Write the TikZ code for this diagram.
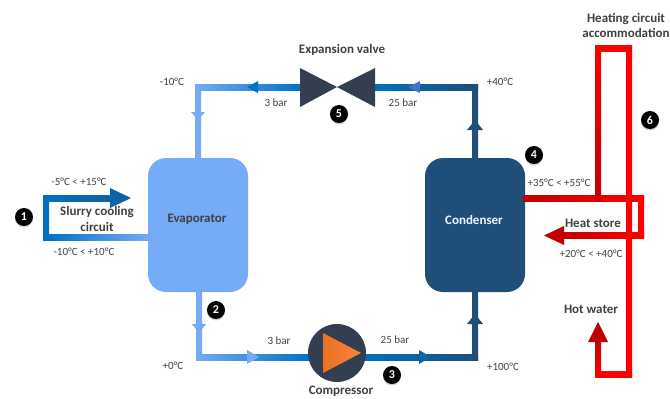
\documentclass[tikz,border=0pt]{standalone}
\usepackage{fontspec}
\setmainfont{Carlito}
\usetikzlibrary{calc,shadows}
\definecolor{evapblue}{HTML}{75ABF7}
\definecolor{midblue}{HTML}{0070C0}
\definecolor{headblue}{HTML}{4472C4}
\definecolor{condblue}{HTML}{1F4E79}
\definecolor{slate}{HTML}{333F50}
\definecolor{darkred}{HTML}{C00000}
\definecolor{pumpL}{HTML}{EB7120}
\definecolor{pumpR}{HTML}{F4863C}
\definecolor{txtgray}{HTML}{404040}
\tikzset{
tank/.style={draw=none, rounded corners=18pt, minimum width=100pt, minimum height=134pt, inner sep=0},
val/.style={text=txtgray, font=\fontsize{11}{12}\selectfont, inner sep=0},
capt/.style={text=txtgray, font=\fontsize{13}{15.5}\selectfont\bfseries, inner sep=0, align=center},
badge/.style={circle, fill=black, text=white, minimum size=18pt, inner sep=0, font=\fontsize{12}{12}\selectfont\bfseries, drop shadow={opacity=.35, shadow xshift=0pt, shadow yshift=-1.5pt}}
}
\newcommand{\hpipe}[4]{\shade[left color=#3, right color=#4] ($(#1)+(-3,-3)$) rectangle ($(#2)+(3,3)$);}
\newcommand{\vpipe}[4]{\shade[top color=#3, bottom color=#4] ($(#1)+(-3,-3)$) rectangle ($(#2)+(3,3)$);}
\begin{document}
\begin{tikzpicture}[x=1pt,y=-1pt]
\useasboundingbox (0,0) rectangle (670,399);
\node[tank, fill=evapblue] (evap) at (198,225) {};
\node[tank, fill=condblue] (cond) at (475,225) {};
\coordinate (valve) at (337,87);
\coordinate (valveL) at (300,87);
\coordinate (valveR) at (375,87);
\coordinate (topL) at (198,87);
\coordinate (topR) at (475,87);
\coordinate (botL) at (199,357);
\coordinate (botR) at (475,357);
\coordinate (compL) at (308,357);
\coordinate (compR) at (366,357);
\coordinate (evapT) at (198,158);
\coordinate (evapB) at (199,292);
\coordinate (condT) at (475,158);
\coordinate (condB) at (475,292);
\vpipe{topL}{evapT}{evapblue}{evapblue}
\vpipe{evapB}{botL}{evapblue}{evapblue}
\vpipe{topR}{condT}{condblue}{condblue}
\vpipe{condB}{botR}{condblue}{condblue}
\hpipe{topL}{valveL}{evapblue}{midblue}
\hpipe{valveR}{topR}{midblue}{condblue}
\hpipe{botL}{compL}{evapblue}{midblue}
\hpipe{compR}{botR}{midblue}{condblue}
\fill[midblue] (258,81) -- (247,87) -- (258,93) -- cycle;
\fill[headblue] (420,81) -- (408,87) -- (420,93) -- cycle;
\fill[evapblue] (191,112) -- (205,112) -- (198,120) -- cycle;
\fill[evapblue] (192,324) -- (206,324) -- (199,333) -- cycle;
\fill[evapblue] (247,350) -- (259,357) -- (247,364) -- cycle;
\fill[midblue!70!condblue] (419,350) -- (431,357) -- (419,364) -- cycle;
\fill[condblue] (467,130) -- (483,130) -- (475,120) -- cycle;
\fill[condblue] (467,324) -- (483,324) -- (475,314) -- cycle;
\fill[slate] (300,68) -- (valve) -- (300,107) -- cycle;
\fill[slate] (375,68) -- (valve) -- (375,107) -- cycle;
\node[circle, fill=slate, minimum size=58pt, inner sep=0] (comp) at (337,353) {};
\shade[left color=pumpL, right color=pumpR] (323,333) -- (361,353) -- (323,373) -- cycle;
\coordinate (slurA) at (46,198);
\coordinate (slurB) at (46,237);
\coordinate (slurC) at (112,198);
\coordinate (slurD) at (148,237);
\hpipe{slurB}{slurD}{midblue}{evapblue}
\hpipe{slurA}{slurC}{midblue}{midblue!60!condblue}
\vpipe{slurA}{slurB}{midblue}{midblue}
\fill[midblue!60!condblue] (110,188) -- (131,198) -- (110,208) -- cycle;
\coordinate (redA) at (526,198);
\coordinate (redB) at (641,198);
\coordinate (redC) at (641,235.5);
\coordinate (redD) at (562,235.5);
\coordinate (riseA) at (598,198);
\coordinate (riseB) at (598,48);
\coordinate (riseC) at (629,48);
\coordinate (riseD) at (629,374);
\coordinate (riseE) at (598,374);
\coordinate (riseF) at (598,340);
\hpipe{redA}{redB}{darkred}{red}
\vpipe{redB}{redC}{red}{red}
\hpipe{redD}{redC}{darkred}{red}
\fill[darkred] (564,226) -- (544,235.5) -- (564,245) -- cycle;
\vpipe{riseB}{riseA}{red}{darkred}
\hpipe{riseB}{riseC}{red}{red}
\vpipe{riseC}{riseD}{red}{red}
\hpipe{riseE}{riseD}{red}{red}
\vpipe{riseF}{riseE}{darkred}{red}
\fill[darkred] (588,342) -- (598,322) -- (608,342) -- cycle;
\node[capt] (evaptxt) at (197,219) {Evaporator};
\node[capt, text=white!90!evapblue] (condtxt) at (474,220) {Condenser};
\node[capt] (valvetxt) at (342,50) {Expansion valve};
\node[capt] (comptxt) at (341,391.5) {Compressor};
\node[capt] (slurrytxt) at (97,219) {Slurry cooling\\circuit};
\node[capt] (heattxt) at (626,25.5) {Heating circuit\\accommodation};
\node[capt] (storetxt) at (593,223) {Heat store};
\node[capt] (watertxt) at (591,309) {Hot water};
\node[val] (t1) at (79,182) {-5°C < +15°C};
\node[val] (t2) at (84,252) {-10°C < +10°C};
\node[val] (t3) at (173,366) {+0°C};
\node[val] (t4) at (172,82) {-10°C};
\node[val] (t5) at (500,82) {+40°C};
\node[val] (t6) at (503,367) {+100°C};
\node[val] (t7) at (559,183) {+35°C < +55°C};
\node[val] (t8) at (591,254) {+20°C < +40°C};
\node[val] (p1) at (276,103) {3 bar};
\node[val] (p2) at (403,103) {25 bar};
\node[val] (p3) at (279,341) {3 bar};
\node[val] (p4) at (395,340) {25 bar};
\node[badge] (b1) at (24,217) {1};
\node[badge] (b2) at (216,310) {2};
\node[badge] (b3) at (392,375) {3};
\node[badge] (b4) at (534,155) {4};
\node[badge] (b5) at (339,114) {5};
\node[badge] (b6) at (650,120) {6};
\end{tikzpicture}
\end{document}
